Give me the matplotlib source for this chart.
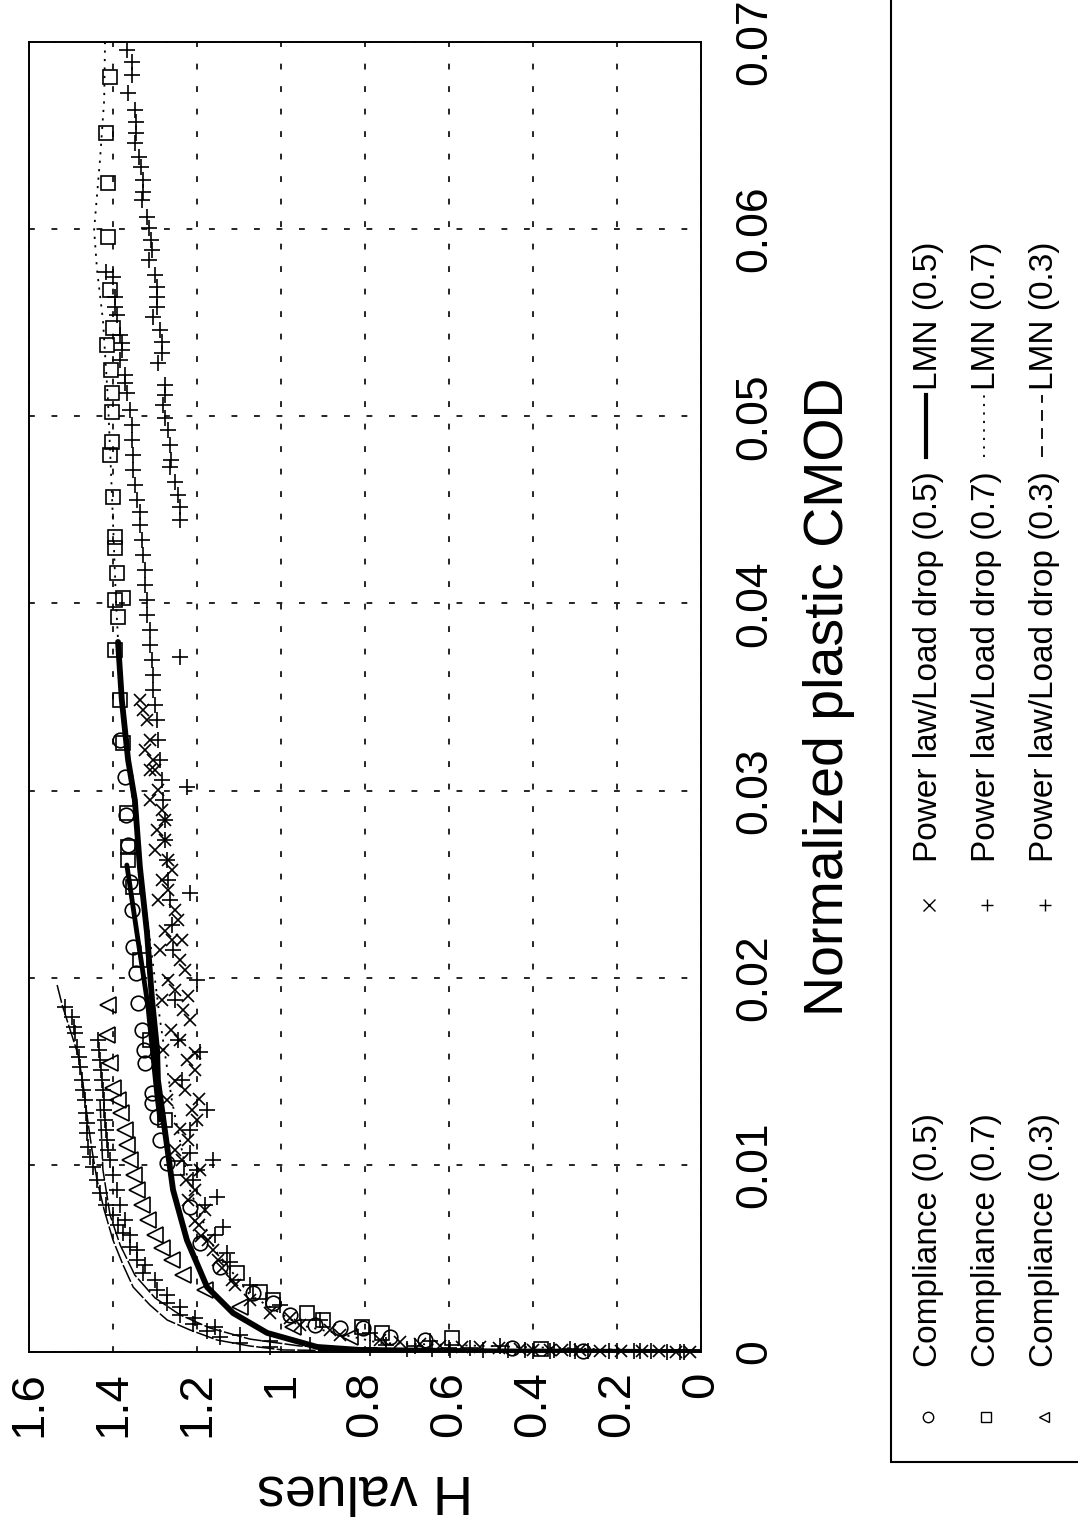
import matplotlib
matplotlib.use("Agg")
import matplotlib.pyplot as plt
from matplotlib.patches import Rectangle
from matplotlib.lines import Line2D

plt.rcParams['font.family'] = ['Liberation Sans', 'DejaVu Sans']

# ---------------- axis ticks ----------------
h_ticks = [1.6, 1.4, 1.2, 1.0, 0.8, 0.6, 0.4, 0.2, 0.0]
h_tick_labels = ["1.6", "1.4", "1.2", "1", "0.8", "0.6", "0.4", "0.2", "0"]
cmod_ticks = [0.0, 0.01, 0.02, 0.03, 0.04, 0.05, 0.06, 0.07]
cmod_tick_labels = ["0", "0.01", "0.02", "0.03", "0.04", "0.05", "0.06", "0.07"]

x_title = "Normalized plastic CMOD"
y_title = "H values"

# ---------------- data: (CMOD, H) ----------------
comp05 = [(0.03270, 1.383), (0.03073, 1.371), (0.02870, 1.369), (0.02709, 1.364), (0.02511, 1.360),
          (0.02362, 1.355), (0.02164, 1.352), (0.02025, 1.345), (0.01865, 1.340), (0.01721, 1.331),
          (0.01614, 1.326), (0.01544, 1.324), (0.01384, 1.307), (0.01331, 1.307), (0.01256, 1.295),
          (0.01133, 1.288), (0.01010, 1.271), (0.00775, 1.217), (0.00582, 1.193), (0.00454, 1.145),
          (0.00315, 1.067), (0.00262, 1.019), (0.00198, 0.979), (0.00144, 0.919), (0.00128, 0.860),
          (0.00128, 0.805), (0.00080, 0.740), (0.00064, 0.657), (0.00020, 0.45), (0.00008, 0.28)]

comp07 = [(0.06813, 1.407), (0.06514, 1.417), (0.06247, 1.412), (0.05958, 1.412), (0.05675, 1.407),
          (0.05472, 1.400), (0.05381, 1.414), (0.05247, 1.405), (0.05125, 1.402), (0.05023, 1.402),
          (0.04863, 1.402), (0.04793, 1.407), (0.04569, 1.400), (0.04355, 1.395), (0.04296, 1.395),
          (0.04163, 1.390), (0.04018, 1.395), (0.04029, 1.376), (0.03928, 1.388), (0.03751, 1.395),
          (0.03484, 1.383), (0.03254, 1.376), (0.02880, 1.367), (0.02699, 1.364), (0.02629, 1.364),
          (0.02485, 1.352), (0.02095, 1.336), (0.01667, 1.312), (0.01240, 1.276), (0.00983, 1.248),
          (0.00422, 1.105), (0.00321, 1.050), (0.00278, 1.019), (0.00208, 0.938), (0.00171, 0.900),
          (0.00134, 0.807), (0.00102, 0.760), (0.00075, 0.593), (0.00015, 0.38)]

comp03 = [(0.01854, 1.412), (0.01694, 1.414), (0.01544, 1.407), (0.01411, 1.400), (0.01347, 1.388),
          (0.01277, 1.381), (0.01186, 1.371), (0.01106, 1.367), (0.01026, 1.360), (0.00946, 1.350),
          (0.00866, 1.343), (0.00786, 1.331), (0.00705, 1.317), (0.00625, 1.300), (0.00556, 1.283),
          (0.00492, 1.260), (0.00411, 1.233), (0.00331, 1.181), (0.00240, 1.098), (0.00134, 0.971),
          (0.00080, 0.836)]

powerlaw05 = [(0.03484, 1.336), (0.03217, 1.324), (0.02950, 1.312), (0.02682, 1.300), (0.02415, 1.293),
              (0.02148, 1.288), (0.01881, 1.283), (0.01614, 1.281), (0.01347, 1.271), (0.01079, 1.252),
              (0.00812, 1.221),
              (0.03377, 1.319), (0.03110, 1.300), (0.02843, 1.276), (0.02576, 1.260), (0.02308, 1.245),
              (0.02041, 1.229), (0.01774, 1.217), (0.01507, 1.205), (0.01240, 1.200), (0.00973, 1.193),
              (0.00759, 1.181),
              (0.03270, 1.312), (0.03003, 1.293), (0.02736, 1.276), (0.02469, 1.269), (0.02202, 1.260),
              (0.01934, 1.252), (0.01667, 1.240), (0.01400, 1.229), (0.01133, 1.221), (0.00866, 1.205),
              (0.03163, 1.305), (0.02896, 1.283), (0.02629, 1.269), (0.02362, 1.252), (0.02095, 1.240),
              (0.01828, 1.233), (0.01560, 1.224), (0.01293, 1.212), (0.01026, 1.236),
              (0.03430, 1.329), (0.03110, 1.312), (0.02790, 1.295), (0.02520, 1.283), (0.02250, 1.276),
              (0.01990, 1.269), (0.01720, 1.262), (0.01450, 1.252), (0.01190, 1.240), (0.00920, 1.226),
              (0.00700, 1.205), (0.00620, 1.190), (0.02200, 1.236), (0.01900, 1.221), (0.01600, 1.205),
              (0.01350, 1.195),
              (0.00679, 1.195), (0.00598, 1.174), (0.00545, 1.162), (0.00492, 1.150), (0.00449, 1.140),
              (0.00385, 1.117), (0.00358, 1.110), (0.00278, 1.074), (0.00208, 1.026), (0.00182, 0.979),
              (0.00144, 0.955), (0.00118, 0.883), (0.00091, 0.860), (0.00064, 0.764), (0.00053, 0.717),
              (0.00043, 0.670), (0.00032, 0.621), (0.00029, 0.570), (0.00027, 0.526), (0.00021, 0.480),
              (0.00016, 0.431), (0.00013, 0.400), (0.00013, 0.360), (0.00011, 0.330), (0.00011, 0.288),
              (0.00008, 0.240), (0.00006, 0.190), (0.00005, 0.140), (0.00003, 0.100), (0.00002, 0.060),
              (0.0, 0.026)]

powerlaw07 = [(0.06957, 1.367), (0.06893, 1.355), (0.06824, 1.355), (0.06728, 1.364), (0.06637, 1.348),
              (0.06573, 1.345), (0.06514, 1.345), (0.06460, 1.348), (0.06386, 1.338), (0.06332, 1.333),
              (0.06263, 1.329), (0.06199, 1.329), (0.06156, 1.331), (0.06065, 1.319), (0.06006, 1.314),
              (0.05942, 1.310), (0.05889, 1.307), (0.05835, 1.314), (0.05755, 1.300), (0.05691, 1.295),
              (0.05638, 1.295), (0.05584, 1.295), (0.05531, 1.305), (0.05461, 1.288), (0.05397, 1.283),
              (0.05338, 1.283), (0.05285, 1.293), (0.05167, 1.276), (0.05114, 1.276), (0.05060, 1.281),
              (0.04991, 1.276), (0.04927, 1.269), (0.04847, 1.264), (0.04767, 1.262), (0.04729, 1.264),
              (0.04649, 1.252), (0.04580, 1.245), (0.04515, 1.240), (0.04446, 1.240),
              (0.05771, 1.417), (0.05744, 1.400), (0.05638, 1.395), (0.05584, 1.395), (0.05541, 1.390),
              (0.05434, 1.383), (0.05392, 1.379), (0.05354, 1.379), (0.05301, 1.383), (0.05221, 1.371),
              (0.05178, 1.371), (0.05125, 1.367), (0.05034, 1.360), (0.04954, 1.355), (0.04873, 1.355),
              (0.04793, 1.352), (0.04713, 1.352), (0.04633, 1.348), (0.04553, 1.343), (0.04489, 1.336),
              (0.04419, 1.336), (0.04339, 1.331), (0.04259, 1.329), (0.04179, 1.324), (0.04099, 1.324),
              (0.04018, 1.319), (0.03938, 1.319), (0.03858, 1.312), (0.03778, 1.312), (0.03698, 1.307),
              (0.03618, 1.305), (0.03538, 1.305), (0.03457, 1.300), (0.03377, 1.295), (0.03270, 1.293),
              (0.03163, 1.288), (0.03057, 1.283), (0.02950, 1.281), (0.02843, 1.276), (0.02736, 1.276),
              (0.02629, 1.271), (0.02522, 1.269), (0.02415, 1.264), (0.02282, 1.260), (0.02148, 1.257),
              (0.01881, 1.252), (0.01667, 1.245), (0.01453, 1.236), (0.01186, 1.217), (0.00973, 1.200),
              (0.00786, 1.181), (0.00625, 1.157), (0.00481, 1.121), (0.00358, 1.074), (0.00251, 1.002),
              (0.00171, 0.907), (0.00102, 0.788), (0.00059, 0.645), (0.00032, 0.479), (0.00016, 0.312),
              (0.00005, 0.145),
              (0.03714, 1.240), (0.03019, 1.224), (0.02453, 1.217), (0.01988, 1.200), (0.01603, 1.193),
              (0.01293, 1.176), (0.01063, 1.217), (0.01026, 1.162), (0.00919, 1.210), (0.00828, 1.152),
              (0.00668, 1.138), (0.00529, 1.129),
              (0.00040, 0.750), (0.00030, 0.680), (0.00024, 0.600), (0.00019, 0.550), (0.00013, 0.420),
              (0.00010, 0.350), (0.00008, 0.270), (0.00006, 0.200), (0.00003, 0.120), (0.00001, 0.040)]

powerlaw03 = [(0.01844, 1.514), (0.01790, 1.498), (0.01737, 1.493), (0.01705, 1.490), (0.01630, 1.486),
              (0.01576, 1.481), (0.01523, 1.479), (0.01453, 1.474), (0.01400, 1.471), (0.01347, 1.467),
              (0.01277, 1.464), (0.01224, 1.462), (0.01170, 1.462), (0.01095, 1.460), (0.01042, 1.455),
              (0.00989, 1.448), (0.00919, 1.438), (0.00850, 1.431), (0.00786, 1.417), (0.00732, 1.400),
              (0.00679, 1.388), (0.00636, 1.376), (0.00561, 1.360), (0.00492, 1.343), (0.00422, 1.329),
              (0.00331, 1.295), (0.00262, 1.271), (0.00198, 1.240), (0.00150, 1.210), (0.00112, 1.176),
              (0.00080, 1.145), (0.00048, 1.098), (0.00027, 1.026),
              (0.01667, 1.436), (0.01614, 1.433), (0.01560, 1.431), (0.01507, 1.429), (0.01453, 1.426),
              (0.01400, 1.424), (0.01347, 1.421), (0.01293, 1.421), (0.01240, 1.419), (0.01186, 1.417),
              (0.01133, 1.414), (0.01079, 1.412), (0.01026, 1.407), (0.00946, 1.400), (0.00866, 1.390),
              (0.00786, 1.383), (0.00705, 1.371), (0.00625, 1.360), (0.00545, 1.343), (0.00465, 1.324),
              (0.00385, 1.300), (0.00305, 1.271), (0.00240, 1.240), (0.00182, 1.205), (0.00134, 1.157),
              (0.00091, 1.098), (0.00059, 1.026), (0.00037, 0.931), (0.00021, 0.788), (0.00011, 0.598),
              (0.00005, 0.360), (0.0, 0.050),
              (0.00018, 0.700), (0.00014, 0.640), (0.00012, 0.520), (0.00009, 0.460), (0.00007, 0.400),
              (0.00006, 0.300), (0.00004, 0.220), (0.00003, 0.160), (0.00002, 0.080)]

lmn05_a = [(0.03794, 1.388), (0.03484, 1.379), (0.03163, 1.364), (0.02950, 1.348), (0.02592, 1.336),
           (0.02239, 1.319), (0.01881, 1.307), (0.01614, 1.295), (0.01453, 1.293), (0.01095, 1.271),
           (0.00866, 1.257), (0.00598, 1.224), (0.00347, 1.176), (0.00208, 1.114), (0.00102, 1.033),
           (0.00027, 0.914), (0.00011, 0.812), (0.00003, 0.479), (0.0, 0.0)]
lmn05_b = [(0.02602, 1.367), (0.02239, 1.343), (0.01854, 1.317), (0.01363, 1.295), (0.01240, 1.288)]

lmn07 = [(0.07000, 1.419), (0.06690, 1.421), (0.06370, 1.431), (0.05996, 1.445), (0.05782, 1.438),
         (0.05515, 1.424), (0.05087, 1.412), (0.04553, 1.402), (0.04018, 1.393), (0.03591, 1.383),
         (0.03163, 1.364), (0.02682, 1.340), (0.02202, 1.312), (0.01774, 1.288), (0.01347, 1.260),
         (0.00866, 1.217), (0.00545, 1.157), (0.00305, 1.074), (0.00144, 0.955), (0.00048, 0.764),
         (0.0, 0.0)]

lmn03_a = [(0.01961, 1.533), (0.01854, 1.521), (0.01721, 1.502), (0.01587, 1.483), (0.01427, 1.471),
           (0.01266, 1.462), (0.01079, 1.450), (0.00919, 1.438), (0.00759, 1.421), (0.00598, 1.400),
           (0.00465, 1.376), (0.00347, 1.352), (0.00251, 1.312), (0.00171, 1.271), (0.00118, 1.217),
           (0.00064, 1.152), (0.00032, 1.074), (0.00011, 0.995), (0.00003, 0.717), (0.0, 0.0)]
lmn03_b = [(0.01347, 1.431), (0.00973, 1.424), (0.00732, 1.407), (0.00572, 1.383), (0.00411, 1.348),
           (0.00289, 1.300), (0.00198, 1.240), (0.00128, 1.169), (0.00069, 1.074), (0.00032, 0.955),
           (0.00011, 0.717), (0.0, 0.0)]

legend_labels = ["Compliance (0.5)", "Compliance (0.7)", "Compliance (0.3)",
                 "Power law/Load drop (0.5)", "Power law/Load drop (0.7)", "Power law/Load drop (0.3)",
                 "LMN (0.5)", "LMN (0.7)", "LMN (0.3)"]


def split(points):
    c = [p[0] for p in points]
    h = [p[1] for p in points]
    return h, c


W, HH = 1078, 1526
fig = plt.figure(figsize=(W / 100, HH / 100), dpi=100)
ax = fig.add_axes([29 / W, 1 - 1352 / HH, 672 / W, 1310 / HH])

mk = dict(linestyle='none', mfc='none', mec='black', clip_on=False)
dotted = (0, (1.2, 3.5))
longdash = (0, (12, 1.5))

h, c = split(powerlaw05)
ax.plot(h, c, marker='x', ms=9, mew=1.2, **mk)
h, c = split(powerlaw07)
ax.plot(h, c, marker='+', ms=12, mew=1.2, **mk)
h, c = split(powerlaw03)
ax.plot(h, c, marker='+', ms=12, mew=1.2, **mk)
h, c = split(comp05)
ax.plot(h, c, marker='o', ms=10.5, mew=1.2, **mk)
h, c = split(comp07)
ax.plot(h, c, marker='s', ms=10, mew=1.2, **mk)
h, c = split(comp03)
ax.plot(h, c, marker='<', ms=11.5, mew=1.2, **mk)

h, c = split(lmn07)
ax.plot(h, c, color='black', lw=1.3, linestyle=dotted)
h, c = split(lmn03_a)
ax.plot(h, c, color='black', lw=1.1, linestyle=longdash)
h, c = split(lmn03_b)
ax.plot(h, c, color='black', lw=1.1, linestyle=longdash)
h, c = split(lmn05_a)
ax.plot(h, c, color='black', lw=4.2, solid_capstyle='round')
h, c = split(lmn05_b)
ax.plot(h, c, color='black', lw=3.5, solid_capstyle='round')

ax.set_xlim(1.6, 0.0)
ax.set_ylim(0.0, 0.07)
ax.set_xticks(h_ticks)
ax.set_xticklabels(h_tick_labels, rotation=90, fontsize=34)
ax.set_yticks(cmod_ticks)
ax.set_yticklabels(cmod_tick_labels, rotation=90, fontsize=32)
ax.yaxis.tick_right()
for t in ax.get_yticklabels():
    t.set_verticalalignment('center')
ax.tick_params(axis='x', length=0, pad=14)
ax.tick_params(axis='y', length=0, pad=24)
ax.set_axisbelow(True)
ax.grid(True, color='black', linestyle=(0, (3.5, 10)), linewidth=1.2)
for s in ax.spines.values():
    s.set_linewidth(1.4)

ax.yaxis.set_label_position('right')
ax.set_ylabel(x_title, fontsize=40, rotation=90)
ax.yaxis.set_label_coords(1.152, 0.5)
ax.set_xlabel(y_title, fontsize=40, rotation=180)
ax.xaxis.set_label_coords(0.5, -0.085)

# ---------------- legend (rotated, drawn manually) ----------------
lax = fig.add_axes([0, 0, 1, 1])
lax.set_xlim(0, W)
lax.set_ylim(HH, 0)
lax.axis('off')
lax.add_patch(Rectangle((891, -20), 400, 1482, fill=False, lw=1.5, ec='black', clip_on=False))

col_x = [929, 987, 1045]
comp_markers = ['o', 's', '<']
pl_markers = ['x', '+', '+']
lmn_styles = ['-', dotted, (0, (6, 4))]
lmn_widths = [3.0, 1.3, 1.3]
for i in range(3):
    x = col_x[i]
    lax.add_line(Line2D([x - 1], [1417], marker=comp_markers[i], ms=7.5, mfc='none', mec='black', mew=1.0))
    lax.text(x, 1367, legend_labels[i], rotation=90, rotation_mode='anchor',
             ha='left', va='center', fontsize=24)
    lax.add_line(Line2D([x], [905], marker=pl_markers[i], ms=8.5, mfc='none', mec='black', mew=1.0))
    lax.text(x, 862, legend_labels[3 + i], rotation=90, rotation_mode='anchor',
             ha='left', va='center', fontsize=24)
    lax.add_line(Line2D([x - 3, x - 3], [457, 395], color='black', lw=lmn_widths[i], linestyle=lmn_styles[i]))
    lax.text(x, 390, legend_labels[6 + i], rotation=90, rotation_mode='anchor',
             ha='left', va='center', fontsize=24)

fig.savefig("out.png", dpi=100)
